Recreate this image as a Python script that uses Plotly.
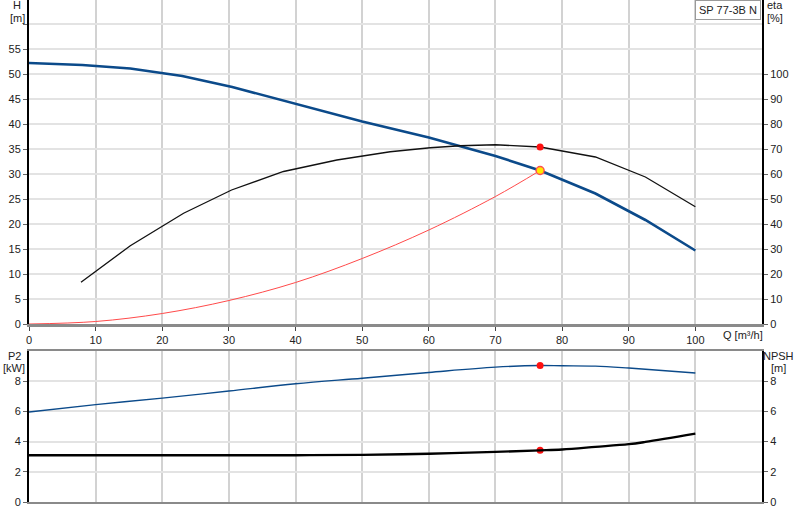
import plotly.graph_objects as go

# pump curve SP 77-3B N
q_h = [0, 8, 15.2, 23, 30.5, 40, 50, 60, 70, 76.7, 85, 92.5, 100]
head = [52.2, 51.8, 51.1, 49.6, 47.4, 44.1, 40.5, 37.3, 33.6, 30.7, 26.1, 20.8, 14.7]

q_eta = [7.8, 15.2, 23.2, 30.4, 38.2, 46.2, 54.2, 60.2, 64.7, 70, 76.7, 85, 92.5, 100]
eta = [16.7, 31.3, 44.3, 53.6, 61.0, 65.6, 68.9, 70.5, 71.3, 71.7, 70.8, 66.8, 58.8, 46.9]

q_sys = [0, 10, 20, 30, 40, 50, 60, 70, 76.7]
h_sys = [0, 0.5, 2.1, 4.7, 8.3, 13.1, 18.8, 25.5, 30.7]

q_p2 = [0, 10, 20, 30, 40, 50, 60, 70, 76.7, 80, 85, 90, 100]
p2 = [5.96, 6.45, 6.88, 7.35, 7.83, 8.2, 8.58, 8.93, 9.04, 9.02, 9.0, 8.87, 8.54]

q_npsh = [0, 10, 20, 30, 40, 50, 60, 70, 76.7, 80, 85, 90, 92.5, 100]
npsh = [3.1, 3.1, 3.1, 3.1, 3.1, 3.12, 3.2, 3.32, 3.42, 3.48, 3.65, 3.83, 3.98, 4.53]

q_duty = 76.7
h_duty = 30.7
eta_duty = 70.8
p2_duty = 9.04
npsh_duty = 3.42

q_ticks = list(range(0, 101, 10))
h_ticks = list(range(0, 61, 5))
h_labels = [str(v) for v in h_ticks[:-1]] + [""]
eta_ticks = list(range(0, 101, 10))
p_ticks = [0, 2, 4, 6, 8]

blue = "#0b4a8a"
grid_h = "#e3e3e3"
grid_v = "#d2d2d2"
tfont = dict(family="Liberation Sans, Arial", size=11, color="#222")

fig = go.Figure()

fig.add_trace(go.Scatter(x=q_sys, y=h_sys, mode="lines", line=dict(color="#ff4a4a", width=1, shape="spline"),
                         xaxis="x", yaxis="y"))
fig.add_trace(go.Scatter(x=q_eta, y=eta, mode="lines", line=dict(color="#111", width=1.3),
                         xaxis="x", yaxis="y2"))
fig.add_trace(go.Scatter(x=q_h, y=head, mode="lines", line=dict(color=blue, width=2.6),
                         xaxis="x", yaxis="y"))
fig.add_trace(go.Scatter(x=[q_duty], y=[eta_duty], mode="markers",
                         marker=dict(color="#ff1010", size=7), xaxis="x", yaxis="y2"))
fig.add_trace(go.Scatter(x=[q_duty], y=[h_duty], mode="markers",
                         marker=dict(color="#ffe800", size=8, line=dict(color="#ff5050", width=1.5)),
                         xaxis="x", yaxis="y"))

fig.add_trace(go.Scatter(x=q_p2, y=p2, mode="lines", line=dict(color=blue, width=1.4, shape="spline"),
                         xaxis="x2", yaxis="y3"))
fig.add_trace(go.Scatter(x=q_npsh, y=npsh, mode="lines", line=dict(color="#000", width=2.4, shape="spline"),
                         xaxis="x2", yaxis="y4"))
fig.add_trace(go.Scatter(x=[q_duty, q_duty], y=[p2_duty, npsh_duty], mode="markers",
                         marker=dict(color="#ff1010", size=7), xaxis="x2", yaxis="y3"))

xdom = [29 / 800, 762 / 800]
top_dom = [1 - 324 / 520, 1]
bot_dom = [1 - 502 / 520, 1 - 351 / 520]

fig.update_layout(
    width=800, height=520,
    margin=dict(l=0, r=0, t=0, b=0, autoexpand=False),
    paper_bgcolor="white", plot_bgcolor="white",
    showlegend=False,
    font=tfont,
    xaxis=dict(domain=xdom, range=[0, 110], anchor="y", tickvals=q_ticks, automargin=False,
               showgrid=True, gridcolor=grid_v, gridwidth=1.5, zeroline=False,
               showline=True, linecolor="#8a8a8a", linewidth=3,
               ticks="outside", ticklen=4, tickcolor="#444", tickfont=tfont),
    yaxis=dict(domain=top_dom, range=[0, 64.8], anchor="x", tickvals=h_ticks, ticktext=h_labels,
               automargin=False, showgrid=True, gridcolor=grid_h, gridwidth=2, zeroline=False,
               showline=True, linecolor="#000", linewidth=2,
               ticks="outside", ticklen=4, tickcolor="#666", tickfont=tfont),
    yaxis2=dict(overlaying="y", side="right", range=[0, 129.6], anchor="x", tickvals=eta_ticks,
                automargin=False, showgrid=False, zeroline=False, showline=True, linecolor="#000", linewidth=2,
                ticks="outside", ticklen=4, tickcolor="#666", tickfont=tfont),
    xaxis2=dict(domain=xdom, range=[0, 110], anchor="y3", tickvals=q_ticks, showticklabels=False,
                automargin=False, showgrid=True, gridcolor=grid_v, gridwidth=1.5, zeroline=False,
                showline=True, linecolor="#8a8a8a", linewidth=2, mirror=True, ticks=""),
    yaxis3=dict(domain=bot_dom, range=[0, 10], anchor="x2", tickvals=p_ticks,
                automargin=False, showgrid=True, gridcolor=grid_h, gridwidth=2, zeroline=False,
                showline=True, linecolor="#000", linewidth=2,
                ticks="outside", ticklen=4, tickcolor="#666", tickfont=tfont),
    yaxis4=dict(overlaying="y3", side="right", range=[0, 10], anchor="x2", tickvals=p_ticks,
                automargin=False, showgrid=False, zeroline=False, showline=True, linecolor="#000", linewidth=2,
                ticks="outside", ticklen=4, tickcolor="#666", tickfont=tfont),
)

# axis titles, one annotation per line so the spacing stays tight
titles = [
    ("H", 17, 5), ("[m]", 17, 18),
    ("eta", 775, 5), ("[%]", 775, 18),
    ("P2", 14, 356), ("[kW]", 14, 368),
    ("NPSH", 778, 356), ("[m]", 778, 368),
]
for txt, px, py in titles:
    fig.add_annotation(x=px / 800, y=1 - py / 520, text=txt, xref="paper", yref="paper",
                       xanchor="center", yanchor="middle", showarrow=False, font=tfont)

fig.add_annotation(x=721 / 800, y=1 - 335 / 520, text="Q [m³/h]", xref="paper", yref="paper",
                   xanchor="left", yanchor="middle", showarrow=False, font=tfont)
fig.add_annotation(x=761 / 800, y=1, text="SP 77-3B N", xanchor="right", yanchor="top",
                   bgcolor="white", bordercolor="#9a9a9a", borderwidth=1, borderpad=3,
                   xref="paper", yref="paper", showarrow=False, font=tfont)

# the page body has an 8px default margin, drop it so the chart sits at 0,0
fig.write_html("out.html", config={"displayModeBar": False},
               post_script="document.body.style.margin='0px';")
